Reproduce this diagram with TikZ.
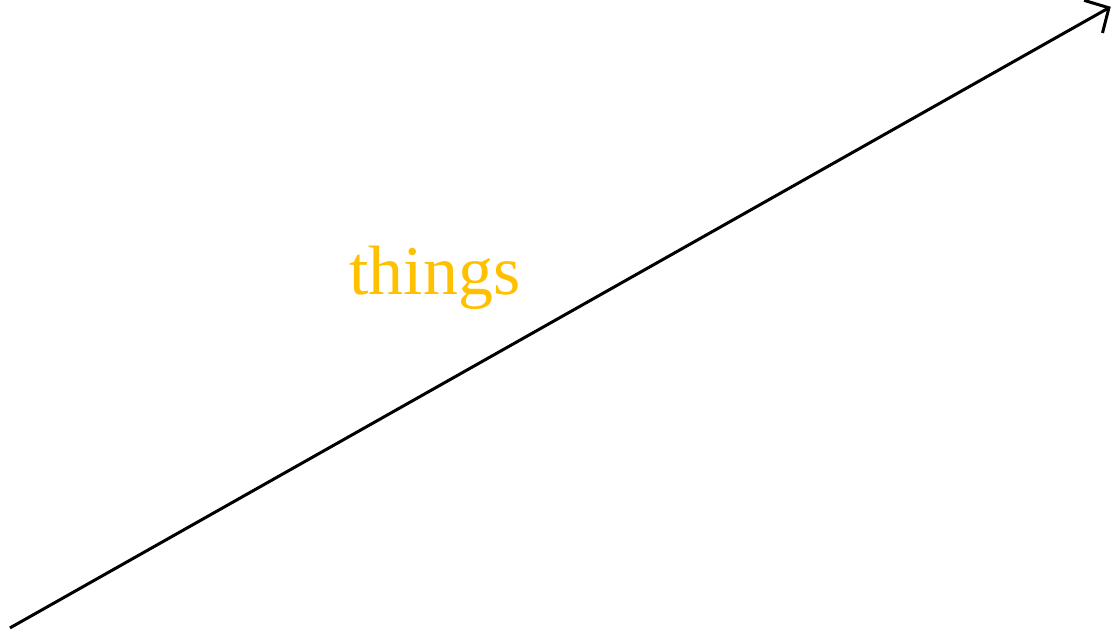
\documentclass[tikz,border=0pt]{standalone}
\usepackage{fontspec}
\setmainfont{Liberation Serif}
\usetikzlibrary{positioning,arrows.meta}
\definecolor{gold}{HTML}{FFC000}

\begin{document}
\begin{tikzpicture}[scale=1]
\useasboundingbox (0,0) rectangle (7.85,4.443);
\coordinate (S) at (0.07,0.022); \coordinate (E) at (7.82,4.395);
\draw[semithick,-{Straight Barb[length=3.6pt,width=7.5pt]}] (S)--(E);
\node[text=gold, font=\fontsize{14}{16}\selectfont] (things) at (3.062,2.49) {things};
\end{tikzpicture}
\end{document}
